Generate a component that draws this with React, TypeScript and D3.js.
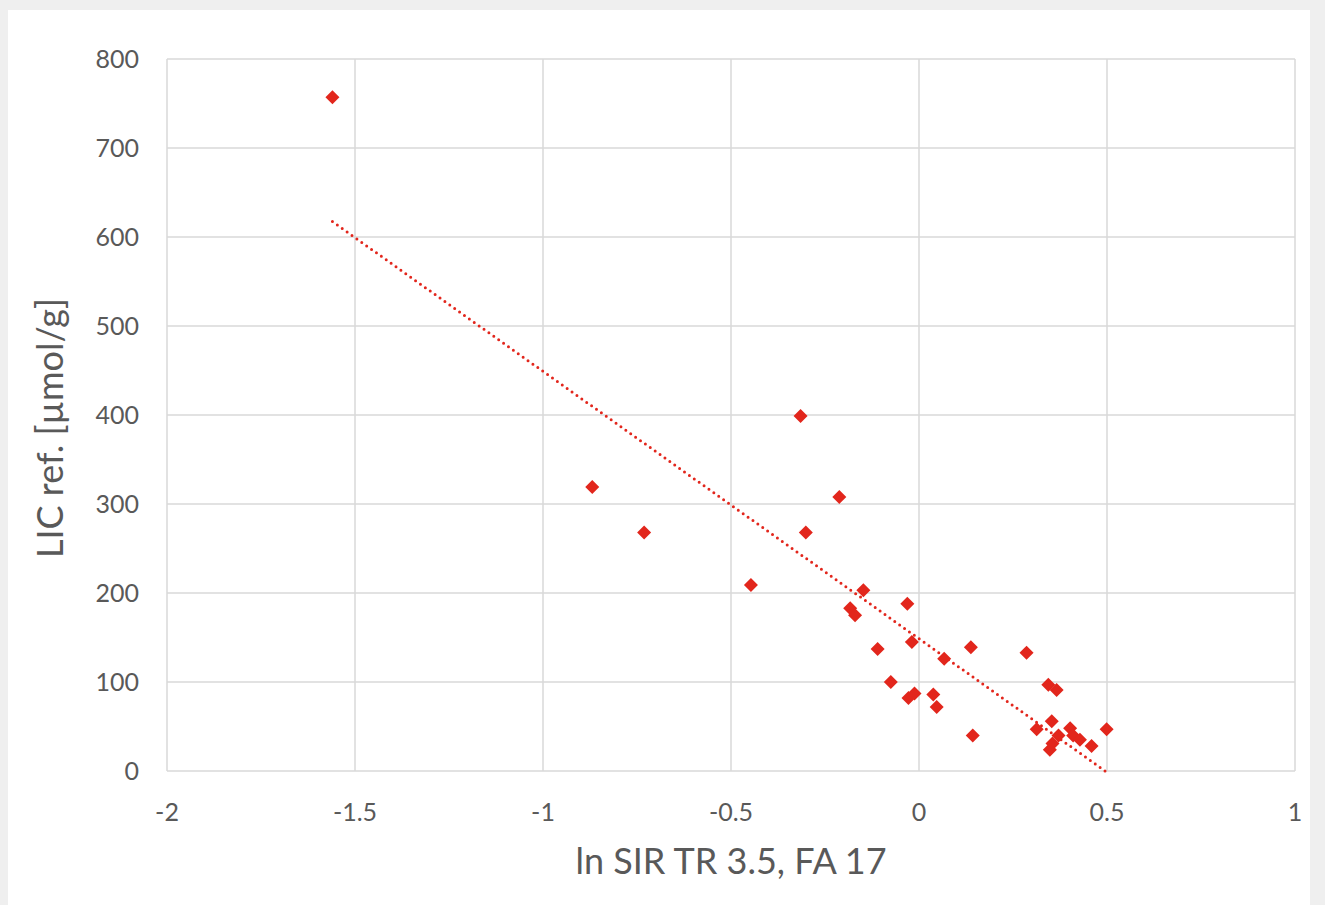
import React, { useRef, useEffect } from 'react';
import * as d3 from 'd3';

// ln SIR values (x) and reference LIC (y)
const lnSir = [
  -1.56, -0.869, -0.731, -0.447, -0.315, -0.301, -0.212, -0.148, -0.183, -0.170,
  -0.031, -0.019, -0.110, 0.138, 0.067, 0.286, -0.075, 0.344, 0.366, -0.028,
  -0.012, 0.038, 0.047, 0.143, 0.313, 0.353, 0.499, 0.348, 0.355, 0.371,
  0.402, 0.410, 0.428, 0.459,
];
const licRef = [
  757, 319, 268, 209, 399, 268, 308, 203, 183, 175,
  188, 145, 137, 139, 126, 133, 100, 97, 91, 82,
  87, 86, 72, 40, 47, 56, 47, 24, 31, 40,
  48, 40, 35, 28,
];
const xTicks = [-2, -1.5, -1, -0.5, 0, 0.5, 1];
const yTicks = [0, 100, 200, 300, 400, 500, 600, 700, 800];

const W = 1325;
const H = 905;
const FONT = 'Lato, "Open Sans", sans-serif';
const TEXT = '#595959';
const GRID = '#d9d9d9';
const RED = '#e2261c';

const App = () => {
  const svgRef = useRef<SVGSVGElement>(null);

  useEffect(() => {
    const svg = d3.select(svgRef.current);
    svg.selectAll('*').remove();

    svg.append('rect').attr('width', W).attr('height', H).attr('fill', '#efefef');
    svg.append('rect')
      .attr('x', 8).attr('y', 10)
      .attr('width', 1302).attr('height', H - 10)
      .attr('fill', '#fff');

    const x = d3.scaleLinear().domain([-2, 1]).range([167, 1295]);
    const y = d3.scaleLinear().domain([0, 800]).range([771, 59]);

    // grid
    svg.append('g').selectAll('line.v')
      .data(xTicks).enter().append('line')
        .attr('x1', d => x(d)).attr('x2', d => x(d))
        .attr('y1', y(800)).attr('y2', y(0))
        .attr('stroke', GRID).attr('stroke-width', 1.5);
    svg.append('g').selectAll('line.h')
      .data(yTicks).enter().append('line')
        .attr('x1', x(-2)).attr('x2', x(1))
        .attr('y1', d => y(d)).attr('y2', d => y(d))
        .attr('stroke', GRID).attr('stroke-width', 1.5);

    // tick labels
    svg.append('g').selectAll('text')
      .data(yTicks).enter().append('text')
        .attr('x', 139).attr('y', d => y(d))
        .attr('dy', '0.35em')
        .attr('text-anchor', 'end')
        .attr('font-family', FONT).attr('font-size', 25)
        .attr('fill', TEXT)
        .text(d => d);
    svg.append('g').selectAll('text')
      .data(xTicks).enter().append('text')
        .attr('x', d => x(d)).attr('y', 812)
        .attr('dy', '0.35em')
        .attr('text-anchor', 'middle')
        .attr('font-family', FONT).attr('font-size', 25)
        .attr('fill', TEXT)
        .text(d => d);

    // axis titles
    svg.append('text')
      .attr('x', (x(-2) + x(1)) / 2).attr('y', 874)
      .attr('text-anchor', 'middle')
      .attr('font-family', FONT).attr('font-size', 36)
      .attr('fill', TEXT)
      .text('ln SIR TR 3.5, FA 17');
    svg.append('text')
      .attr('transform', 'translate(63,428) rotate(-90)')
      .attr('text-anchor', 'middle')
      .attr('font-family', FONT).attr('font-size', 36)
      .attr('fill', TEXT)
      .text('LIC ref. [µmol/g]');

    // linear trendline (least squares)
    const mx = d3.mean(lnSir) as number;
    const my = d3.mean(licRef) as number;
    let sxy = 0, sxx = 0;
    lnSir.forEach((v, i) => {
      sxy += (v - mx) * (licRef[i] - my);
      sxx += (v - mx) * (v - mx);
    });
    const slope = sxy / sxx;
    const icpt = my - slope * mx;
    const ext = d3.extent(lnSir) as [number, number];
    svg.append('line')
      .attr('x1', x(ext[0])).attr('y1', y(icpt + slope * ext[0]))
      .attr('x2', x(ext[1])).attr('y2', y(icpt + slope * ext[1]))
      .attr('stroke', RED).attr('stroke-width', 3)
      .attr('stroke-linecap', 'round')
      .attr('stroke-dasharray', '0 6');

    // markers
    const diamond = d3.symbol().type(d3.symbolDiamond2).size(125);
    svg.append('g').selectAll('path')
      .data(lnSir).enter().append('path')
        .attr('d', diamond)
        .attr('transform', (d, i) => 'translate(' + x(d) + ',' + y(licRef[i]) + ')')
        .attr('fill', RED);
  }, []);

  return (
    <svg ref={svgRef} width={W} height={H}
      style={{ position: 'absolute', left: 0, top: 0, display: 'block' }} />
  );
};

export default App;
